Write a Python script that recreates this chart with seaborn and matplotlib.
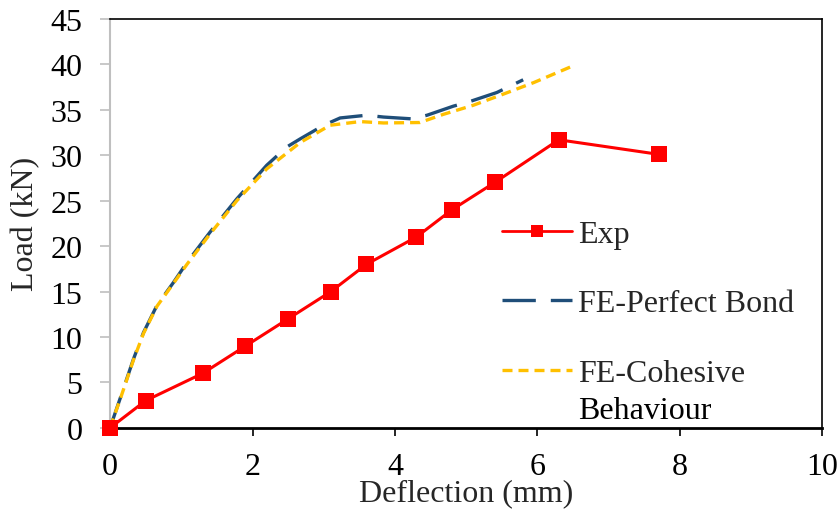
import matplotlib
matplotlib.use("Agg")
import matplotlib.pyplot as plt
import seaborn as sns
import pandas as pd
from matplotlib.lines import Line2D

sns.set_theme(style="white")
SERIF = ['Liberation Serif', 'DejaVu Serif']
plt.rcParams['font.family'] = SERIF

# Data
exp_x = [0, 0.5, 1.3, 1.9, 2.5, 3.1, 3.6, 4.3, 4.8, 5.4, 6.3, 7.7]
exp_y = [0, 3, 6, 9, 12, 15, 18, 21, 24, 27, 31.7, 30.1]

pb_x = [0, 0.14, 0.33, 0.47, 0.66, 0.89, 1.08, 1.40, 1.78, 2.2, 2.48, 2.67, 3.0,
        3.23, 3.6, 3.84, 4.24, 4.45, 4.82, 5.01, 5.43, 5.8]
pb_y = [0, 3.2, 7.6, 10.5, 13.5, 16.0, 18.2, 21.5, 25.2, 28.9, 30.9, 31.8, 33.3,
        34.1, 34.4, 34.2, 34.0, 34.4, 35.4, 35.8, 36.9, 38.3]

cb_x = [0, 0.14, 0.33, 0.47, 0.66, 0.89, 1.08, 1.40, 1.78, 2.2, 2.67, 3.09,
        3.51, 3.84, 4.35, 4.68, 5.10, 5.48, 5.95, 6.46]
cb_y = [0, 3.1, 7.5, 10.4, 13.4, 15.9, 18.0, 21.3, 25.0, 28.5, 31.4, 33.3,
        33.7, 33.55, 33.6, 34.5, 35.5, 36.6, 38.0, 39.7]

labels = ["Exp", "FE-Perfect Bond", "FE-Cohesive"]
label_extra = "Behaviour"
x_ticks = [0, 2, 4, 6, 8, 10]
y_ticks = [0, 5, 10, 15, 20, 25, 30, 35, 40, 45]

RED = "#FF0000"
BLUE = "#1F4E79"
YEL = "#FFC000"
FS = 23

df_exp = pd.DataFrame({"x": exp_x, "y": exp_y})
df_pb = pd.DataFrame({"x": pb_x, "y": pb_y})
df_cb = pd.DataFrame({"x": cb_x, "y": cb_y})

fig = plt.figure(figsize=(8.4, 5.1), dpi=100)
ax = fig.add_axes([0.131, 0.159, 0.848, 0.802])

sns.lineplot(data=df_pb, x="x", y="y", sort=False, ax=ax, color=BLUE, lw=2.4,
             estimator=None, clip_on=False, zorder=3)
ax.lines[-1].set_dashes([10, 4.5])
sns.lineplot(data=df_cb, x="x", y="y", sort=False, ax=ax, color=YEL, lw=2.4,
             estimator=None, clip_on=False, zorder=4)
ax.lines[-1].set_dashes([3, 1.8])
sns.lineplot(data=df_exp, x="x", y="y", sort=False, ax=ax, color=RED, lw=2.2,
             marker="s", markersize=12, markeredgewidth=0, estimator=None,
             clip_on=False, zorder=5)

ax.set_xlim(0, 10)
ax.set_ylim(0, 45)
ax.set_xticks(x_ticks)
ax.set_yticks(y_ticks)
ax.tick_params(axis="both", labelsize=FS, colors="black")
ax.tick_params(axis="x", direction="out", length=6, width=1.2, color="black", pad=11)
ax.tick_params(axis="y", direction="out", length=7, width=1.2, color="#BFBFBF", pad=13)
ax.tick_params(left=True, bottom=True)

for s in ["top", "right"]:
    ax.spines[s].set_color("black")
    ax.spines[s].set_linewidth(1.2)
ax.spines["bottom"].set_color("black")
ax.spines["bottom"].set_linewidth(2)
ax.spines["left"].set_color("#BFBFBF")
ax.spines["left"].set_linewidth(1.5)

ax.set_xlabel("Deflection (mm)", fontsize=FS, labelpad=-2)
ax.set_ylabel("Load (kN)", fontsize=FS, labelpad=7)

h_exp = Line2D([], [], color=RED, lw=2, marker="s", markersize=8, markeredgewidth=0)
h_pb = Line2D([], [], color=BLUE, lw=2.4, dashes=[10, 4.5])
h_cb = Line2D([], [], color=YEL, lw=2.4, dashes=[3, 1.8])
leg = ax.legend([h_exp, h_pb, h_cb], labels, frameon=False, fontsize=FS,
                loc="upper left", bbox_to_anchor=(0.532, 0.54),
                handlelength=2.2, handletextpad=0.2, labelspacing=1.25,
                borderaxespad=0)

fig.canvas.draw()
t = leg.get_texts()[2]
bb = t.get_window_extent()
inv = ax.transAxes.inverted()
(x0, y0) = inv.transform((bb.x0, bb.y0))
ax.text(x0, y0 - 0.02, label_extra, fontsize=FS, ha="left", va="top",
        color="black", fontfamily="Liberation Serif", transform=ax.transAxes)

fig.savefig("out.png", dpi=100)
